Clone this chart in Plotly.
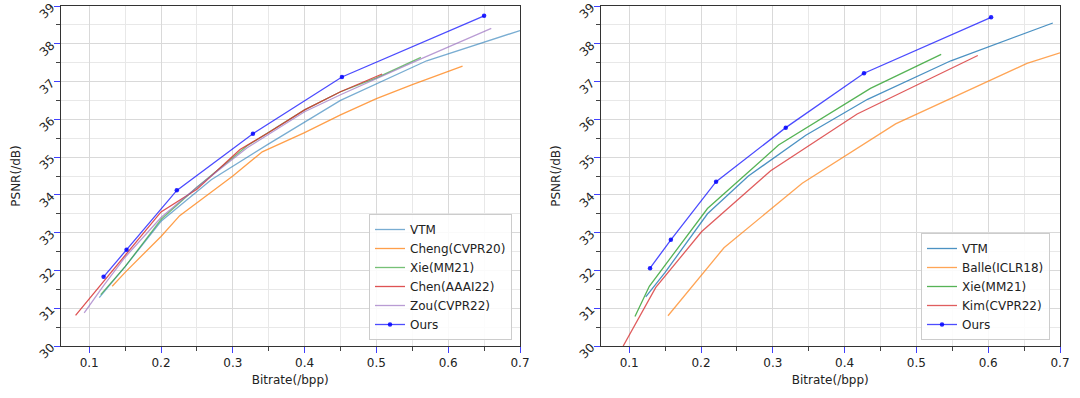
import plotly.graph_objects as go
from plotly.subplots import make_subplots

# ---- Left panel data ----
L_vtm_x = [0.114, 0.15, 0.2, 0.27, 0.35, 0.45, 0.57, 0.65, 0.7]
L_vtm_y = [31.28, 32.1, 33.3, 34.4, 35.35, 36.5, 37.55, 38.05, 38.35]
L_cheng_x = [0.132, 0.15, 0.2, 0.226, 0.3, 0.341, 0.4, 0.45, 0.5, 0.55, 0.62]
L_cheng_y = [31.58, 31.95, 32.9, 33.45, 34.5, 35.14, 35.65, 36.12, 36.55, 36.92, 37.41]
L_xie_x = [0.116, 0.15, 0.2, 0.25, 0.32, 0.4, 0.45, 0.5, 0.562]
L_xie_y = [31.36, 32.1, 33.35, 34.2, 35.3, 36.25, 36.73, 37.1, 37.64]
L_chen_x = [0.081, 0.12, 0.15, 0.2, 0.25, 0.31, 0.35, 0.4, 0.45, 0.508]
L_chen_y = [30.81, 31.7, 32.4, 33.55, 34.15, 35.2, 35.65, 36.25, 36.73, 37.2]
L_zou_x = [0.093, 0.12, 0.15, 0.2, 0.25, 0.32, 0.4, 0.45, 0.55, 0.66]
L_zou_y = [30.88, 31.6, 32.35, 33.4, 34.2, 35.25, 36.2, 36.65, 37.5, 38.41]
L_ours_x = [0.120, 0.152, 0.222, 0.328, 0.452, 0.650]
L_ours_y = [31.83, 32.55, 34.12, 35.62, 37.12, 38.74]

# ---- Right panel data ----
R_vtm_x = [0.123, 0.15, 0.209, 0.266, 0.346, 0.432, 0.548, 0.69]
R_vtm_y = [31.30, 31.95, 33.5, 34.5, 35.58, 36.53, 37.55, 38.55]
R_balle_x = [0.154, 0.232, 0.341, 0.471, 0.654, 0.70]
R_balle_y = [30.80, 32.6, 34.31, 35.88, 37.48, 37.76]
R_xie_x = [0.108, 0.128, 0.209, 0.308, 0.436, 0.5345]
R_xie_y = [30.78, 31.58, 33.64, 35.32, 36.82, 37.72]
R_kim_x = [0.0916, 0.137, 0.201, 0.297, 0.4175, 0.5855]
R_kim_y = [30.0, 31.55, 33.03, 34.64, 36.14, 37.69]
R_ours_x = [0.129, 0.158, 0.221, 0.318, 0.427, 0.604]
R_ours_y = [32.06, 32.81, 34.35, 35.78, 37.22, 38.70]

x_ticks = [0.1, 0.2, 0.3, 0.4, 0.5, 0.6, 0.7]
y_ticks = [30, 31, 32, 33, 34, 35, 36, 37, 38, 39]

FONT = "DejaVu Sans"

fig = make_subplots(rows=1, cols=2, horizontal_spacing=0.0)

left_series = [
    ("VTM", L_vtm_x, L_vtm_y, "rgba(31,119,180,0.6)"),
    ("Cheng(CVPR20)", L_cheng_x, L_cheng_y, "rgba(255,127,14,0.75)"),
    ("Xie(MM21)", L_xie_x, L_xie_y, "rgba(44,160,44,0.65)"),
    ("Chen(AAAI22)", L_chen_x, L_chen_y, "rgba(214,39,40,0.8)"),
    ("Zou(CVPR22)", L_zou_x, L_zou_y, "rgba(148,103,189,0.65)"),
]
for name, xs, ys, c in left_series:
    fig.add_trace(go.Scatter(x=xs, y=ys, mode="lines", name=name,
                             line=dict(color=c, width=1.3), legend="legend"),
                  row=1, col=1)
fig.add_trace(go.Scatter(x=L_ours_x, y=L_ours_y, mode="lines+markers", name="Ours",
                         line=dict(color="rgba(0,0,255,0.7)", width=1.3),
                         marker=dict(size=4.5, color="rgba(0,0,255,0.85)"),
                         legend="legend"), row=1, col=1)

right_series = [
    ("VTM", R_vtm_x, R_vtm_y, "rgba(31,119,180,0.8)"),
    ("Balle(ICLR18)", R_balle_x, R_balle_y, "rgba(255,127,14,0.7)"),
    ("Xie(MM21)", R_xie_x, R_xie_y, "rgba(44,160,44,0.8)"),
    ("Kim(CVPR22)", R_kim_x, R_kim_y, "rgba(214,39,40,0.75)"),
]
for name, xs, ys, c in right_series:
    fig.add_trace(go.Scatter(x=xs, y=ys, mode="lines", name=name,
                             line=dict(color=c, width=1.3), legend="legend2"),
                  row=1, col=2)
fig.add_trace(go.Scatter(x=R_ours_x, y=R_ours_y, mode="lines+markers", name="Ours",
                         line=dict(color="rgba(0,0,255,0.7)", width=1.3),
                         marker=dict(size=4.5, color="rgba(0,0,255,0.85)"),
                         legend="legend2"), row=1, col=2)

W, H = 1080, 398
xdoms = [[60.5 / W, 520 / W], [600.5 / W, 1060 / W]]

axis_common = dict(showline=True, linecolor="#333333", linewidth=1, mirror=True,
                   showgrid=True, gridcolor="#d9d9d9", gridwidth=1,
                   ticks="outside", tickcolor="#4040ff", ticklen=6, tickwidth=1,
                   tickfont=dict(family=FONT, size=12, color="#222222"),
                   zeroline=False, automargin=False)

for i, ax in enumerate(["xaxis", "xaxis2"]):
    fig.layout[ax].update(dict(axis_common, domain=xdoms[i], range=[0.06, 0.7],
                               tickvals=x_ticks, ticktext=[str(v) for v in x_ticks],
                               title=dict(text="Bitrate(/bpp)", standoff=6,
                                          font=dict(family=FONT, size=12, color="#222222")),
                               minor=dict(dtick=0.05, tick0=0, showgrid=True, gridcolor="#e8e8e8",
                                          ticks="outside", ticklen=3.5, tickcolor="#444444")))
for i, ax in enumerate(["yaxis", "yaxis2"]):
    fig.layout[ax].update(dict(axis_common, range=[30, 39], domain=[0, 1],
                               tickvals=y_ticks, ticktext=[str(v) for v in y_ticks],
                               tickangle=-45,
                               title=dict(text="PSNR(/dB)", standoff=13,
                                          font=dict(family=FONT, size=12, color="#222222")),
                               minor=dict(dtick=0.5, tick0=0, showgrid=True, gridcolor="#e8e8e8",
                                          ticks="outside", ticklen=3.5, tickcolor="#444444")))

plot_h = H - 6 - 52
legend_common = dict(bgcolor="rgba(255,255,255,0.85)", bordercolor="#cccccc", borderwidth=1,
                     font=dict(family=FONT, size=12, color="#222222"),
                     xanchor="right", yanchor="bottom", itemwidth=30,
                     tracegroupgap=0, y=(346 - 340) / plot_h)
fig.update_layout(
    width=W, height=H,
    margin=dict(l=0, r=0, t=6, b=52),
    paper_bgcolor="white", plot_bgcolor="white",
    font=dict(family=FONT, size=12, color="#222222"),
    legend=dict(legend_common, x=512 / W),
    legend2=dict(legend_common, x=1050 / W),
    showlegend=True,
)

fig.write_html("out.html", config={"displayModeBar": False},
               post_script="document.body.style.margin='0px';")
